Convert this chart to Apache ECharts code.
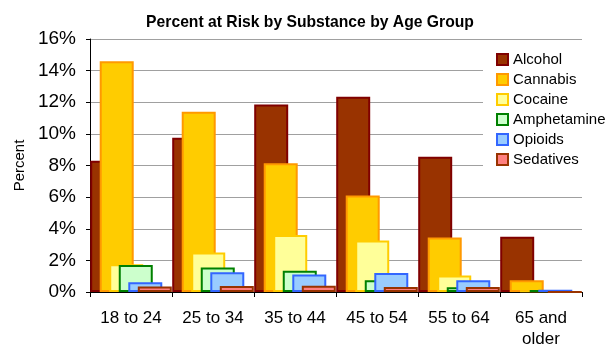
<!DOCTYPE html>
<html>
<head>
<meta charset="utf-8">
<script src="https://cdn.jsdelivr.net/npm/echarts@6/dist/echarts.min.js"></script>
<style>
  html, body { margin: 0; padding: 0; background: #fff; }
  #chart { width: 605px; height: 347px; }
</style>
</head>
<body>
<div id="chart"></div>
<script>
// Age groups along the x axis
const ageGroups = ['18 to 24', '25 to 34', '35 to 44', '45 to 54', '55 to 64', '65 and\nolder'];

// Percent at risk per substance, one value per age group
const alcohol     = [8.3, 9.75, 11.85, 12.35, 8.55, 3.5];
const cannabis    = [14.6, 11.4, 8.15, 6.1, 3.45, 0.75];
const cocaine     = [1.75, 2.5, 3.6, 3.25, 1.05, 0.1];
const amphetamine = [1.7, 1.55, 1.35, 0.75, 0.3, 0.12];
const opioids     = [0.62, 1.25, 1.1, 1.2, 0.75, 0.15];
const sedatives   = [0.35, 0.38, 0.4, 0.32, 0.32, 0.0];

// Y axis ticks (percent)
const yTicks = [0, 2, 4, 6, 8, 10, 12, 14, 16];

const substances = [
  { name: 'Alcohol',     data: alcohol,     fill: '#993300', edge: '#800000' },
  { name: 'Cannabis',    data: cannabis,    fill: '#FFCC00', edge: '#FF9900' },
  { name: 'Cocaine',     data: cocaine,     fill: '#FFFF99', edge: '#FFCC00' },
  { name: 'Amphetamine', data: amphetamine, fill: '#CCFFCC', edge: '#008000' },
  { name: 'Opioids',     data: opioids,     fill: '#99CCFF', edge: '#3366FF' },
  { name: 'Sedatives',   data: sedatives,   fill: '#FF8080', edge: '#993300' }
];

const font = '"Liberation Sans", Arial, sans-serif';

const chart = echarts.init(document.getElementById('chart'), null, { renderer: 'canvas' });

chart.setOption({
  animation: false,
  backgroundColor: '#ffffff',
  textStyle: { fontFamily: font },
  title: {
    text: 'Percent at Risk by Substance by Age Group',
    left: 310,
    textAlign: 'center',
    top: 15,
    padding: 0,
    textStyle: { fontFamily: font, fontSize: 15.7, fontWeight: 'bold', color: '#000' }
  },
  legend: {
    orient: 'vertical',
    left: 483,
    top: 46,
    padding: [6, 4, 8, 13],
    backgroundColor: '#ffffff',
    itemWidth: 11,
    itemHeight: 11,
    itemGap: 5,
    icon: 'rect',
    textStyle: { fontFamily: font, fontSize: 15, color: '#000', padding: [0, 0, 0, 0] },
    data: substances.map(s => ({
      name: s.name,
      itemStyle: { color: s.fill, borderColor: s.edge, borderWidth: 2 }
    }))
  },
  grid: { left: 90, right: 23, top: 39, bottom: 55, containLabel: false, outerBoundsMode: 'none' },
  xAxis: {
    type: 'category',
    data: ageGroups,
    axisLine: { lineStyle: { color: '#000', width: 1 } },
    axisTick: { show: true, length: 5, lineStyle: { color: '#000' } },
    axisLabel: { fontFamily: font, fontSize: 17, color: '#000', margin: 16, lineHeight: 21 }
  },
  yAxis: {
    type: 'value',
    min: yTicks[0],
    max: yTicks[yTicks.length - 1],
    interval: 2,
    name: 'Percent',
    nameLocation: 'middle',
    nameRotate: 90,
    nameGap: 63,
    nameTextStyle: { fontFamily: font, fontSize: 15, color: '#000' },
    axisLine: { show: true, lineStyle: { color: '#000', width: 1 } },
    axisTick: { show: true, length: 4, lineStyle: { color: '#000' } },
    axisLabel: {
      fontFamily: font, fontSize: 19, color: '#000', margin: 14,
      formatter: v => v + '%'
    },
    splitLine: { show: true, lineStyle: { color: '#A0A0A0', width: 1 } }
  },
  series: substances.map(s => ({
    name: s.name,
    type: 'bar',
    data: s.data,
    barWidth: 34,
    barGap: '-72%',
    itemStyle: { color: s.fill, borderColor: s.edge, borderWidth: 2 },
    emphasis: { disabled: true }
  }))
});
</script>
</body>
</html>
